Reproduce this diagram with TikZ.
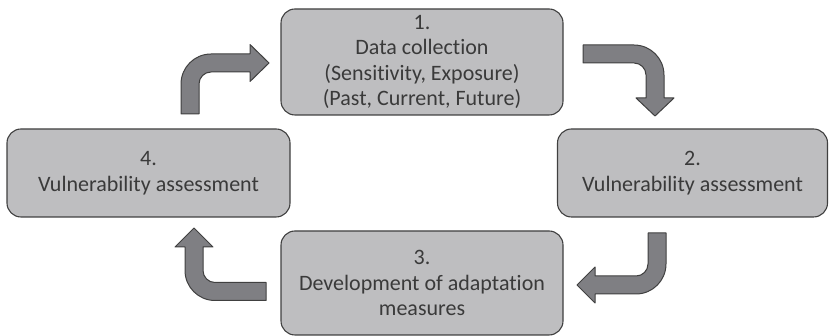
\documentclass[tikz,border=0pt]{standalone}
\usepackage{fontspec}
\setmainfont{Carlito}[Ligatures={NoCommon}]
\definecolor{boxfill}{HTML}{BEBEC0}
\definecolor{arrfill}{HTML}{7F7F83}
\definecolor{edge}{HTML}{404040}
\definecolor{txt}{HTML}{3A3A3A}
\begin{document}
\begin{tikzpicture}[x=1pt,y=1pt,
  stagebox/.style={draw=edge, line width=1.1pt, fill=boxfill, rounded corners=14pt,
    align=center, text=txt, inner sep=0pt,
    font=\fontsize{22}{25.5}\selectfont},
  blockarrow/.style={draw=edge, line width=1pt, fill=arrfill, line join=round}]
\useasboundingbox (0,0) rectangle (829,336);
\node[stagebox, minimum width=282pt, minimum height=106pt] (s1) at (422,274)
  {1.\\Data collection\\(Sensitivity, Exposure)\\(Past, Current, Future)};
\node[stagebox, minimum width=270pt, minimum height=88pt] (s2) at (692.5,163)
  {2.\\Vulnerability assessment};
\node[stagebox, minimum width=282pt, minimum height=104pt] (s3) at (422,53)
  {3.\\Development of adaptation\\measures};
\node[stagebox, minimum width=283pt, minimum height=88pt] (s4) at (148.5,163)
  {4.\\Vulnerability assessment};
% arrow 4 -> 1
\draw[blockarrow] (181,222) -- (181,252) arc[start angle=180,end angle=90,radius=30pt]
  -- (250,282) -- (250,291.5) -- (269,273) -- (250,254.5) -- (250,264) -- (211,264)
  arc[start angle=90,end angle=180,radius=12pt] -- (199,222) -- cycle;
% arrow 1 -> 2
\draw[blockarrow] (583,291) -- (634,291) arc[start angle=90,end angle=0,radius=30pt]
  -- (664,238) -- (674,238) -- (655,220) -- (636,238) -- (646,238) -- (646,261)
  arc[start angle=0,end angle=90,radius=12pt] -- (583,273) -- cycle;
% arrow 2 -> 3
\draw[blockarrow] (666,103) -- (666,72) arc[start angle=0,end angle=-90,radius=30pt]
  -- (595,42) -- (595,33) -- (577,51) -- (595,69) -- (595,60) -- (636,60)
  arc[start angle=-90,end angle=0,radius=12pt] -- (648,103) -- cycle;
% arrow 3 -> 4
\draw[blockarrow] (266,35.5) -- (215,35.5) arc[start angle=-90,end angle=-180,radius=30pt]
  -- (185,89) -- (175,89) -- (194,108) -- (213,89) -- (203,89) -- (203,65.5)
  arc[start angle=180,end angle=270,radius=12pt] -- (266,53.5) -- cycle;
\end{tikzpicture}
\end{document}
